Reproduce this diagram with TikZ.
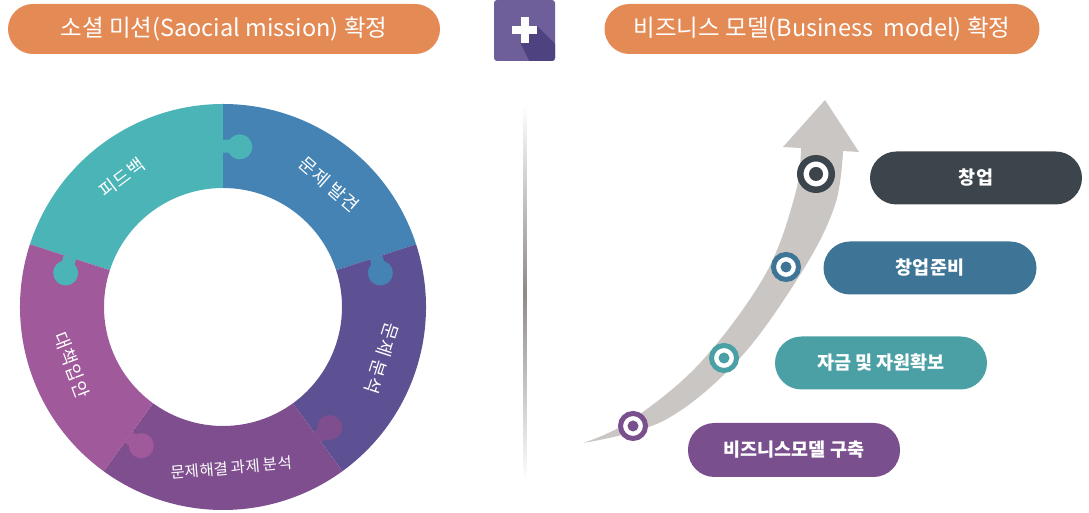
\documentclass[tikz,border=0pt]{standalone}
\usepackage{fontspec}
\setmainfont{Noto Sans CJK KR}
\newfontfamily\ringfont[LetterSpace=5]{Noto Sans CJK KR}
\usetikzlibrary{positioning}

\definecolor{headorange}{HTML}{E38A55}
\definecolor{plusviolet}{HTML}{6E5F9A}
\definecolor{plusshadow}{HTML}{4E4281}
\definecolor{ringteal}{HTML}{4BB4B6}
\definecolor{ringblue}{HTML}{4483B3}
\definecolor{ringviolet}{HTML}{5E5193}
\definecolor{ringplum}{HTML}{7E4E8F}
\definecolor{ringmagenta}{HTML}{A05A9B}
\definecolor{arrowgray}{HTML}{C9C6C4}
\definecolor{sepgray}{HTML}{8E8A88}
\definecolor{stagedark}{HTML}{3D454C}
\definecolor{stageblue}{HTML}{3E7596}
\definecolor{stageteal}{HTML}{4BA0A5}
\definecolor{stagepurple}{HTML}{7A4F8D}

\begin{document}
\begin{tikzpicture}[x=1pt, y=1pt,
		header_style/.style={rectangle,rounded corners=25pt,fill=headorange,text=white,minimum height=50pt,font=\fontsize{23.5}{23.5}\selectfont},
		ring_label/.style={text=white,font=\ringfont\fontsize{18}{18}\selectfont},
		stage_style/.style={rectangle,rounded corners=26.5pt,minimum width=212pt,minimum height=53pt,text=white,font=\bfseries\fontsize{18.5}{18.5}\selectfont},
		marker_style/.style={circle,fill=white,line width=5pt,minimum size=25pt,inner sep=0pt},
		dot_style/.style={circle,minimum size=11pt,inner sep=0pt}]

		\useasboundingbox (0,0) rectangle (1089,513);

		% headers
		\node[header_style, minimum width=432pt] (h_mission) at (224,484) {소셜 미션(Saocial mission) 확정};
		\node[header_style, minimum width=435pt] (h_model) at (822,484) {비즈니스 모델(Business\ \ model) 확정};

		% plus box
		\node[rectangle, rounded corners=3pt, fill=plusviolet, minimum size=61pt] (plus) at (524.5,482.5) {};
		\begin{scope}
			\clip[rounded corners=3pt] (494,452) rectangle (555,513);
			\fill[plusshadow] (537,487) -- (570,454) -- (570,430) -- (540,430) -- (520.5,470) -- cycle;
		\end{scope}
		\fill[white] (512,479) rectangle (537,487);
		\fill[white] (520.5,470) rectangle (528.5,495.5);

		% separator
		\shade[top color=white, bottom color=white, middle color=sepgray] (523.5,33) rectangle (526.5,408);

		% ring
		\begin{scope}[shift={(223,206)}]
			\fill[ringteal] (90:119) -- (90:203) arc[start angle=90, end angle=162, radius=203] -- (162:119) arc[start angle=162, end angle=90, radius=119] -- cycle;
			\fill[ringblue] (18:119) -- (18:203) arc[start angle=18, end angle=90, radius=203] -- (90:119) arc[start angle=90, end angle=18, radius=119] -- cycle;
			\fill[ringviolet] (-54:119) -- (-54:203) arc[start angle=-54, end angle=18, radius=203] -- (18:119) arc[start angle=18, end angle=-54, radius=119] -- cycle;
			\fill[ringplum] (-126:119) -- (-126:203) arc[start angle=-126, end angle=-54, radius=203] -- (-54:119) arc[start angle=-54, end angle=-126, radius=119] -- cycle;
			\fill[ringmagenta] (162:119) -- (162:203) arc[start angle=162, end angle=234, radius=203] -- (234:119) arc[start angle=234, end angle=162, radius=119] -- cycle;

			% puzzle tabs
			\draw[ringteal, line width=13pt] (90:161) -- (86:161);
			\fill[ringteal] (84:161) circle[radius=12.5];
			\draw[ringblue, line width=13pt] (18:161) -- (14:161);
			\fill[ringblue] (12.2:161) circle[radius=12.5];
			\draw[ringplum, line width=13pt] (-54:161) -- (-50:161);
			\fill[ringplum] (-48.5:161) circle[radius=12.5];
			\draw[ringmagenta, line width=13pt] (-126:161) -- (-122:161);
			\fill[ringmagenta] (-120.5:161) circle[radius=12.5];
			\draw[ringteal, line width=13pt] (162:161) -- (166:161);
			\fill[ringteal] (167.8:161) circle[radius=12.5];

			\node[ring_label, rotate=37] (l_feedback) at (128:164) {피드백};
			\node[ring_label, rotate=-41] (l_find) at (49:162) {문제 발견};
			\node[ring_label, rotate=-108] (l_analysis) at (-18:167) {문제 분석};
			\node[ring_label, rotate=5, font=\fontsize{15.5}{15.5}\selectfont] (l_task) at (-87:161) {문제해결 과제 분석};
			\node[ring_label, rotate=-69] (l_plan) at (201:162) {대책입안};
		\end{scope}

		% growth arrow
		\fill[arrowgray] plot[smooth, tension=0.6] coordinates {(583,70) (630,92) (700,150) (765,238) (795,318) (801,365)}
			-- (783,366) -- (825,413) -- (859,361) -- (843,362)
			-- plot[smooth, tension=0.6] coordinates {(843,362) (835,308) (803,243) (740,155) (665,93) (583,70)} -- cycle;

		% markers
		\node[marker_style, draw=stagepurple] (m_model) at (633,87) {};
		\node[dot_style, fill=stagepurple] at (m_model) {};
		\node[marker_style, draw=stageteal] (m_fund) at (724,155) {};
		\node[dot_style, fill=stageteal] at (m_fund) {};
		\node[marker_style, draw=stageblue] (m_prep) at (786,246) {};
		\node[dot_style, fill=stageblue] at (m_prep) {};
		\node[marker_style, draw=stagedark, line width=6.5pt, minimum size=31.5pt] (m_start) at (816,339) {};
		\node[dot_style, fill=stagedark, minimum size=14pt] at (m_start) {};

		% stages
		\node[stage_style, fill=stagedark] (s_start) at (976,335) {창업};
		\node[stage_style, fill=stageblue, minimum width=213pt] (s_prep) at (930,245) {창업준비};
		\node[stage_style, fill=stageteal] (s_fund) at (881,150) {자금 및 자원확보};
		\node[stage_style, fill=stagepurple, minimum height=54pt] (s_model) at (794,63) {비즈니스모델 구축};

\end{tikzpicture}
\end{document}
